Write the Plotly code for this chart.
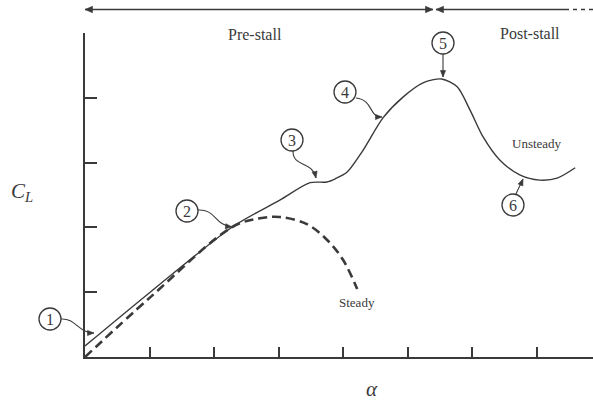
import math
import plotly.graph_objects as go

# Lift coefficient vs angle of attack (arbitrary units, one unit per tick)
alpha_unsteady = [0.0, 1.01, 2.29, 3.02, 3.49, 3.75, 3.88, 4.06, 4.31, 4.62, 4.93,
                  5.24, 5.53, 5.77, 5.97, 6.17, 6.43, 6.74, 7.05, 7.32, 7.60]
cl_unsteady = [0.17, 1.00, 2.01, 2.42, 2.69, 2.70, 2.75, 2.85, 3.19, 3.69, 4.01,
               4.23, 4.29, 4.17, 3.81, 3.40, 3.04, 2.81, 2.73, 2.76, 2.92]

alpha_steady = [0.0, 1.01, 2.29, 2.71, 3.02, 3.44, 3.75, 4.00, 4.22]
cl_steady = [0.0, 0.92, 2.01, 2.14, 2.16, 2.05, 1.81, 1.50, 1.05]

x_ticks = [1, 2, 3, 4, 5, 6, 7]
y_ticks = [1, 2, 3, 4, 5]

W, H = 593, 403
ML, MR, MT, MB = 85, 0, 33, 46
PW, PH = W - ML - MR, H - MT - MB
X_MAX = PW / 64.5
Y_MAX = 5.0
INK = "#3a3a3a"
SERIF = "Liberation Serif"


def px_to_paper(px, py):
    """Convert a page pixel position to paper coordinates."""
    return (px - ML) / PW, (H - MB - py) / PH


def arrowhead(tip, frm, length=7.5, half=3.2):
    """Filled triangular arrowhead at `tip`, pointing away from `frm` (pixels)."""
    dx, dy = tip[0] - frm[0], tip[1] - frm[1]
    n = math.hypot(dx, dy)
    ux, uy = dx / n, dy / n
    bx, by = tip[0] - ux * length, tip[1] - uy * length
    p1 = (bx - uy * half, by + ux * half)
    p2 = (bx + uy * half, by - ux * half)
    pts = [px_to_paper(*p) for p in (tip, p1, p2)]
    path = "M {:.5f},{:.5f} L {:.5f},{:.5f} L {:.5f},{:.5f} Z".format(
        pts[0][0], pts[0][1], pts[1][0], pts[1][1], pts[2][0], pts[2][1])
    return dict(type="path", xref="paper", yref="paper", path=path,
                fillcolor=INK, line=dict(color=INK, width=0.6))


fig = go.Figure()
fig.add_trace(go.Scatter(x=alpha_steady, y=cl_steady, mode="lines",
                         line=dict(color=INK, width=2.6, dash="9px,5px", shape="spline"),
                         hoverinfo="skip"))
fig.add_trace(go.Scatter(x=alpha_unsteady, y=cl_unsteady, mode="lines",
                         line=dict(color=INK, width=1.4, shape="spline", smoothing=0.8),
                         hoverinfo="skip"))

shapes = []
annotations = []


def add_text(text, px, py, size, italic=False, family=SERIF):
    x, y = px_to_paper(px, py)
    if italic:
        text = "<i>" + text + "</i>"
    annotations.append(dict(x=x, y=y, xref="paper", yref="paper", text=text,
                            xanchor="center", yanchor="middle", showarrow=False,
                            font=dict(family=family, size=size, color=INK)))


# Numbered markers: circle centre and curved leader (pixels)
markers = [
    ("1", (50, 319), [(61, 319), (76, 318), (78, 333), (94, 333)]),
    ("2", (187, 211), [(198, 210), (216, 209), (214, 225), (232, 227)]),
    ("3", (292, 140), [(293, 151), (293, 168), (312, 160), (316, 178)]),
    ("4", (345, 92), [(356, 98), (374, 100), (368, 117), (382, 117)]),
    ("5", (443, 43), [(443, 54), (443, 62), (443, 68), (443, 77)]),
    ("6", (513, 205), [(516, 194), (518, 189), (520, 186), (523, 179)]),
]
R = 11
for label, (cx, cy), pts in markers:
    x0, y0 = px_to_paper(cx - R, cy + R)
    x1, y1 = px_to_paper(cx + R, cy - R)
    shapes.append(dict(type="circle", xref="paper", yref="paper",
                       x0=x0, x1=x1, y0=y0, y1=y1,
                       line=dict(color=INK, width=1.3), fillcolor="white"))
    add_text(label, cx, cy, 16)
    d = [px_to_paper(*p) for p in pts]
    path = "M {:.5f},{:.5f} C {:.5f},{:.5f} {:.5f},{:.5f} {:.5f},{:.5f}".format(
        d[0][0], d[0][1], d[1][0], d[1][1], d[2][0], d[2][1], d[3][0], d[3][1])
    shapes.append(dict(type="path", xref="paper", yref="paper", path=path,
                       line=dict(color=INK, width=1.1)))
    shapes.append(arrowhead(pts[3], pts[2], length=6.5, half=2.6))

# Regime arrows above the plot
TOP_Y = 9.5
for xa, xb in [(85, 433), (436, 565)]:
    a = px_to_paper(xa, TOP_Y)
    b = px_to_paper(xb, TOP_Y)
    shapes.append(dict(type="line", xref="paper", yref="paper", x0=a[0], x1=b[0],
                       y0=a[1], y1=b[1], line=dict(color=INK, width=1.5)))
shapes.append(arrowhead((85, TOP_Y), (100, TOP_Y)))
shapes.append(arrowhead((433, TOP_Y), (420, TOP_Y)))
shapes.append(arrowhead((436, TOP_Y), (450, TOP_Y)))
a = px_to_paper(565, TOP_Y)
b = px_to_paper(593, TOP_Y)
shapes.append(dict(type="line", xref="paper", yref="paper", x0=a[0], x1=b[0],
                   y0=a[1], y1=b[1], line=dict(color=INK, width=1.5, dash="4px,4px")))

add_text("Pre-stall", 255, 34, 16)
add_text("Post-stall", 530, 33, 16)
add_text("Steady", 357, 302, 13)
add_text("Unsteady", 537, 143, 13)
add_text("C<sub>L</sub>", 22, 192, 21, italic=True)
add_text("α", 372, 389, 21, italic=True)

axis_common = dict(showgrid=False, zeroline=False, showline=True, linecolor=INK,
                   linewidth=1.5, ticks="inside", tickcolor=INK, tickwidth=1.5,
                   showticklabels=False, fixedrange=True)
fig.update_layout(
    width=W, height=H,
    margin=dict(l=ML, r=MR, t=MT, b=MB, pad=0),
    paper_bgcolor="white", plot_bgcolor="white",
    showlegend=False,
    xaxis=dict(range=[0, X_MAX], tickvals=x_ticks, ticklen=10, **axis_common),
    yaxis=dict(range=[0, Y_MAX], tickvals=y_ticks, ticklen=12, **axis_common),
    shapes=shapes,
    annotations=annotations,
)

fig.write_html("out.html")
